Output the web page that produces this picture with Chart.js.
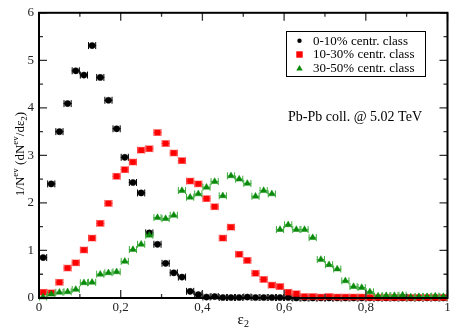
<!DOCTYPE html>
<html>
<head>
<meta charset="utf-8">
<script src="https://cdn.jsdelivr.net/npm/chart.js@4.4.1/dist/chart.umd.min.js"></script>
<style>
html,body{margin:0;padding:0;background:#fff;}
#wrap{width:452px;height:329px;position:relative;}
</style>
</head>
<body>
<div id="wrap"><canvas id="c" width="452" height="329"></canvas></div>
<script>
// ---- data ----
const binCenters = [0.01,0.03,0.05,0.07,0.09,0.11,0.13,0.15,0.17,0.19,0.21,0.23,0.25,0.27,0.29,0.31,0.33,0.35,0.37,0.39,0.41,0.43,0.45,0.47,0.49,0.51,0.53,0.55,0.57,0.59,0.61,0.63,0.65,0.67,0.69,0.71,0.73,0.75,0.77,0.79,0.81,0.83,0.85,0.87,0.89,0.91,0.93,0.95,0.97,0.99];
const binHalfWidth = 0.01;
const central0_10 = [0.85,2.40,3.50,4.09,4.78,4.69,5.31,4.64,4.16,3.56, 2.96,2.43,2.21,1.37,1.13,0.73,0.53,0.44,0.14,0.07, 0.02,0.03,0.01,0.01,0.01,0.02,0.01,0.01,0.01,0.01, 0.01,0,0,0,0,0,0,0,0,0, 0,0,0,0,0,0,0,0,0,0];
const central10_30 = [0.12,0.11,0.33,0.63,0.74,1.01,1.26,1.57,1.99,2.56, 2.70,2.86,3.11,3.14,3.48,3.25,3.05,2.89,2.46,2.40, 2.09,1.92,1.26,1.49,0.92,0.79,0.52,0.39,0.27,0.24, 0.12,0.09,0.03,0.03,0.02,0.03,0.02,0.02,0.02,0.02, 0.01,0.01,0.01,0.01,0.01,0.01,0.01,0.01,0.01,0.01];
const central30_50 = [0.02,0.08,0.12,0.13,0.18,0.32,0.33,0.50,0.53,0.55, 0.77,1.02,1.13,1.32,1.69,1.67,1.74,2.26,2.12,2.19, 2.33,2.45,2.15,2.57,2.50,2.41,2.14,2.26,2.19,1.44, 1.54,1.44,1.44,1.27,0.81,0.70,0.61,0.36,0.24,0.22, 0.13,0.04,0.05,0.05,0.06,0.02,0.03,0.03,0.04,0.03];
const seriesNames = ["0-10% centr. class", "10-30% centr. class", "30-50% centr. class"];
const xTickValues = [0, 0.2, 0.4, 0.6, 0.8, 1];
const xTickLabels = ["0", "0,2", "0,4", "0,6", "0,8", "1"];
const annotationText = "Pb-Pb coll. @ 5.02 TeV";

// ---- styles ----
const SERIF = '"Liberation Serif", "DejaVu Serif", serif';
const styles = [
  {color:'#000000', bar:'#000000', shape:'circle', r:3.1, lr:2.2},
  {color:'#ff0000', bar:'#ff4a4a', shape:'rect', r:4.0, lr:3.2},
  {color:'#0a8a0a', bar:'#3fae3f', shape:'triangle', r:3.8, lr:3.4}
];
const seriesValues = [central0_10, central10_30, central30_50];

const datasets = seriesValues.map((vals, i) => ({
  label: seriesNames[i],
  data: vals.map((v, k) => ({x: binCenters[k], y: v})),
  pointStyle: styles[i].shape,
  pointRadius: styles[i].r,
  pointHoverRadius: styles[i].r,
  pointBackgroundColor: styles[i].color,
  pointBorderColor: styles[i].color,
  pointBorderWidth: 0.5,
  showLine: false,
  clip: false,
  order: 3 - i
}));

function drawMarker(ctx, shape, x, y, r, color) {
  ctx.save();
  ctx.fillStyle = color;
  ctx.beginPath();
  if (shape === 'circle') { ctx.arc(x, y, r, 0, Math.PI*2); }
  else if (shape === 'rect') { ctx.rect(x - r, y - r, 2*r, 2*r); }
  else { ctx.moveTo(x, y - r); ctx.lineTo(x + r*0.95, y + r*0.65); ctx.lineTo(x - r*0.95, y + r*0.65); ctx.closePath(); }
  ctx.fill();
  ctx.restore();
}

const decor = {
  id: 'decor',
  beforeDatasetDraw(chart, args) {
    const i = args.index;
    const ctx = chart.ctx, xs = chart.scales.x, ys = chart.scales.y;
    ctx.save();
    ctx.strokeStyle = styles[i].bar;
    ctx.lineWidth = 1;
    seriesValues[i].forEach((v, k) => {
      const x0 = xs.getPixelForValue(binCenters[k] - binHalfWidth);
      const x1 = xs.getPixelForValue(binCenters[k] + binHalfWidth);
      const y = ys.getPixelForValue(v);
      ctx.beginPath();
      ctx.moveTo(x0, y); ctx.lineTo(x1, y);
      ctx.moveTo(x0 + 0.5, y - 3.5); ctx.lineTo(x0 + 0.5, y + 3.5);
      ctx.moveTo(x1 - 0.5, y - 3.5); ctx.lineTo(x1 - 0.5, y + 3.5);
      ctx.stroke();
    });
    ctx.restore();
  },
  afterDraw(chart) {
    const ctx = chart.ctx, a = chart.chartArea, xs = chart.scales.x, ys = chart.scales.y;
    ctx.save();
    // ticks (inward) on all four sides
    ctx.strokeStyle = '#333';
    ctx.lineWidth = 1.3;
    ctx.beginPath();
    for (let t = 0; t <= 10; t++) {
      const v = t / 10;
      const px = xs.getPixelForValue(v);
      const L = (t % 2 === 0) ? 8 : 4;
      ctx.moveTo(px, a.bottom); ctx.lineTo(px, a.bottom - L);
      ctx.moveTo(px, a.top); ctx.lineTo(px, a.top + L);
    }
    for (let t = 0; t <= 12; t++) {
      const v = t / 2;
      const py = ys.getPixelForValue(v);
      const L = (t % 2 === 0) ? 8 : 4;
      ctx.moveTo(a.left, py); ctx.lineTo(a.left + L, py);
      ctx.moveTo(a.right, py); ctx.lineTo(a.right - L, py);
    }
    ctx.stroke();
    // frame
    ctx.strokeStyle = '#000';
    ctx.lineWidth = 2;
    ctx.strokeRect(a.left, a.top, a.right - a.left, a.bottom - a.top);

    // x tick labels
    ctx.fillStyle = '#222';
    ctx.font = '13px ' + SERIF;
    ctx.textAlign = 'center';
    ctx.textBaseline = 'top';
    xTickValues.forEach((v, k) => {
      ctx.fillText(xTickLabels[k], xs.getPixelForValue(v), a.bottom + 3);
    });

    // x title: ε2
    ctx.fillStyle = '#000';
    ctx.textBaseline = 'alphabetic';
    ctx.textAlign = 'left';
    ctx.font = '15px ' + SERIF;
    const eW = ctx.measureText('ε').width;
    ctx.font = '10px ' + SERIF;
    const sW = ctx.measureText('2').width;
    const cx = (a.left + a.right) / 2;
    let sx = cx - (eW + sW) / 2;
    ctx.font = '15px ' + SERIF;
    ctx.fillText('ε', sx, 324);
    ctx.font = '10px ' + SERIF;
    ctx.fillText('2', sx + eW, 327);

    // y title, rotated
    const parts = [
      {t:'1/N', f:13, dy:0},
      {t:'ev', f:9, dy:-6},
      {t:' (dN', f:13, dy:0},
      {t:'ev', f:9, dy:-6},
      {t:'/dε', f:13, dy:0},
      {t:'2', f:9, dy:3},
      {t:')', f:13, dy:0}
    ];
    let total = 0;
    parts.forEach(p => { ctx.font = p.f + 'px ' + SERIF; p.w = ctx.measureText(p.t).width; total += p.w; });
    ctx.save();
    ctx.translate(24, 154);
    ctx.rotate(-Math.PI / 2);
    let px = -total / 2;
    parts.forEach(p => {
      ctx.font = p.f + 'px ' + SERIF;
      ctx.fillText(p.t, px, p.dy);
      px += p.w;
    });
    ctx.restore();

    // legend box
    ctx.lineWidth = 1;
    ctx.strokeStyle = '#000';
    ctx.strokeRect(286.5, 31.5, 139, 45);
    ctx.font = '13px ' + SERIF;
    ctx.textBaseline = 'middle';
    ctx.fillStyle = '#000';
    const rows = [40.7, 54.5, 68.3];
    seriesNames.forEach((name, i) => {
      drawMarker(ctx, styles[i].shape, 299.5, rows[i], styles[i].lr, styles[i].color);
      ctx.fillStyle = '#000';
      ctx.fillText(name, 313, rows[i] + 0.5);
    });

    // annotation
    ctx.textBaseline = 'alphabetic';
    ctx.font = '14px ' + SERIF;
    ctx.fillText(annotationText, 288, 121);
    ctx.restore();
  }
};

new Chart(document.getElementById('c'), {
  type: 'scatter',
  data: { datasets },
  options: {
    responsive: false,
    animation: false,
    events: [],
    layout: { padding: { top: 11, right: 2, left: 0, bottom: 0 } },
    plugins: { legend: { display: false }, tooltip: { enabled: false } },
    scales: {
      x: {
        type: 'linear', min: 0, max: 1,
        grid: { display: false, drawTicks: false },
        border: { display: false },
        ticks: { display: false },
        afterFit(s) { s.height = 31; }
      },
      y: {
        type: 'linear', min: 0, max: 6,
        grid: { display: false, drawTicks: false },
        border: { display: false },
        ticks: { stepSize: 1, padding: 5, color: '#222', font: { family: SERIF, size: 13 },
                 callback: v => String(v) },
        afterFit(s) { s.width = 39; }
      }
    }
  },
  plugins: [decor]
});
</script>
</body>
</html>
